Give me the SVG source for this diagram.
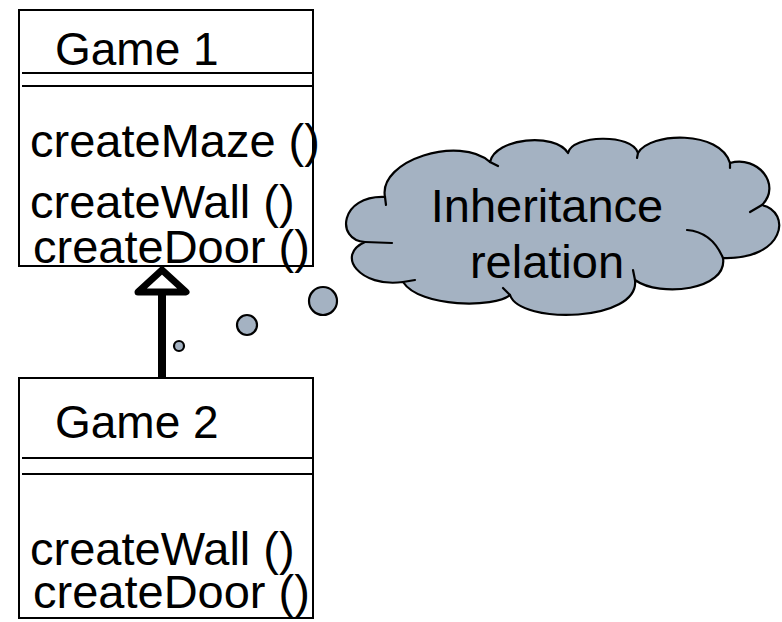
<svg xmlns="http://www.w3.org/2000/svg" width="782" height="622" viewBox="0 0 782 622">
  <style>
    .box { fill: #ffffff; stroke: #000000; stroke-width: 2; }
    .sep { stroke: #000000; stroke-width: 2; }
    .txt { font-family: "Liberation Sans", Arial, sans-serif; font-size: 47px; fill: #000000; }
    .title { font-size: 46px; }
    .cloud { fill: #a4b2c2; stroke: #000000; stroke-width: 2.2; stroke-linejoin: round; }
    .tail { fill: none; stroke: #000000; stroke-width: 2.2; stroke-linecap: round; }
    .bubble { fill: #a4b2c2; stroke: #000000; stroke-width: 2.2; }
  </style>

  <!-- Base class -->
  <g id="game1">
    <rect class="box" x="19" y="10" width="294" height="256"/>
    <line class="sep" x1="22" y1="73" x2="313" y2="73"/>
    <line class="sep" x1="22" y1="86" x2="313" y2="86"/>
    <text class="txt title" x="55" y="65">Game 1</text>
    <text class="txt" x="30" y="157">createMaze ()</text>
    <text class="txt" x="30" y="218">createWall ()</text>
    <text class="txt" x="33" y="263">createDoor ()</text>
  </g>

  <!-- Derived class -->
  <g id="game2">
    <rect class="box" x="19" y="378" width="294" height="240"/>
    <line class="sep" x1="22" y1="458" x2="313" y2="458"/>
    <line class="sep" x1="22" y1="474" x2="313" y2="474"/>
    <text class="txt title" x="55" y="438">Game 2</text>
    <text class="txt" x="30" y="565">createWall ()</text>
    <text class="txt" x="33" y="608">createDoor ()</text>
  </g>

  <!-- Generalization arrow -->
  <g id="connectors">
    <line x1="162" y1="294" x2="162" y2="378" stroke="#000000" stroke-width="8"/>
    <polygon points="162,270 186,292 138,292" fill="#ffffff" stroke="#000000" stroke-width="7" stroke-linejoin="round"/>
  </g>

  <!-- Thought cloud -->
  <g id="note">
    <circle class="bubble" cx="179" cy="346" r="5"/>
    <circle class="bubble" cx="247" cy="325" r="10"/>
    <circle class="bubble" cx="323" cy="301" r="14"/>
    <path class="cloud" d="M365,242
      C335,240 340,195 385,197
      C378,160 460,135 490,162
      C495,138 555,132 568,153
      C572,135 632,133 638,153
      C650,132 720,130 730,163
      C758,155 782,185 762,205
      C792,212 785,260 723,258
      C728,290 660,298 635,280
      C640,322 520,325 510,295
      C495,308 420,308 403,282
      C360,288 335,255 365,242 Z"/>
    <path class="tail" d="M365,242 L392,243"/>
    <path class="tail" d="M385,197 L386,205"/>
    <path class="tail" d="M490,162 L498,166"/>
    <path class="tail" d="M638,153 L637,158"/>
    <path class="tail" d="M730,163 L730,168"/>
    <path class="tail" d="M762,205 L750,212"/>
    <path class="tail" d="M687,230 Q712,232 723,258"/>
    <path class="tail" d="M635,280 L633,270"/>
    <path class="tail" d="M510,295 L503,288"/>
    <path class="tail" d="M403,282 L415,280"/>
    <text class="txt" x="547" y="222" text-anchor="middle">Inheritance</text>
    <text class="txt" x="547" y="278" text-anchor="middle">relation</text>
  </g>
</svg>
